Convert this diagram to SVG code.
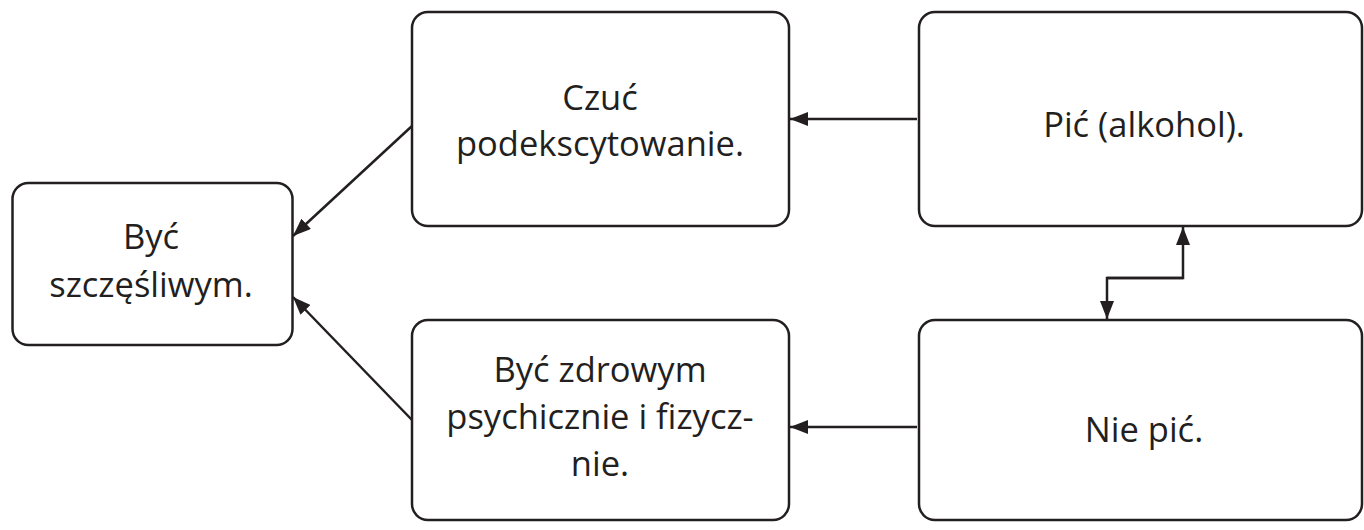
<svg xmlns="http://www.w3.org/2000/svg" width="1364" height="530" viewBox="0 0 1364 530">
  <style>
    .box { fill: #ffffff; stroke: #231f20; stroke-width: 2.5; }
    .lbl { font-family: "Open Sans", "Liberation Sans", sans-serif; font-size: 34.5px; fill: #231f20; text-anchor: middle; }
    .edge { fill: none; stroke: #231f20; stroke-width: 2.5; marker-end: url(#head); }
  </style>
  <defs>
    <marker id="head" markerUnits="userSpaceOnUse" markerWidth="20" markerHeight="14" refX="18" refY="7" orient="auto">
      <path d="M0,0 L18,7 L0,14 z" fill="#231f20"/>
    </marker>
  </defs>

  <rect width="1364" height="530" fill="#ffffff"/>

  <g id="node-szczesliwy">
    <rect class="box" x="12.5" y="183" width="280" height="162" rx="16"/>
    <text class="lbl" x="151" y="249">Być</text>
    <text class="lbl" x="151" y="297">szczęśliwym.</text>
  </g>

  <g id="node-podekscytowanie">
    <rect class="box" x="412" y="12" width="377" height="214" rx="16"/>
    <text class="lbl" x="600" y="110">Czuć</text>
    <text class="lbl" x="600" y="156">podekscytowanie.</text>
  </g>

  <g id="node-zdrowy">
    <rect class="box" x="412" y="320" width="377" height="200" rx="16"/>
    <text class="lbl" x="600" y="382">Być zdrowym</text>
    <text class="lbl" x="600" y="429">psychicznie i fizycz-</text>
    <text class="lbl" x="600" y="476">nie.</text>
  </g>

  <g id="node-pic">
    <rect class="box" x="919" y="12" width="443" height="214" rx="16"/>
    <text class="lbl" x="1144" y="137">Pić (alkohol).</text>
  </g>

  <g id="node-nie-pic">
    <rect class="box" x="919" y="320" width="443" height="200" rx="16"/>
    <text class="lbl" x="1144" y="442">Nie pić.</text>
  </g>

  <g id="connectors">
    <line class="edge" x1="917" y1="119" x2="790" y2="119"/>
    <line class="edge" x1="917" y1="427" x2="790" y2="427"/>
    <line class="edge" x1="412" y1="126" x2="293" y2="236"/>
    <line class="edge" x1="412" y1="420" x2="293" y2="297"/>
    <polyline class="edge" points="1107,278 1183,278 1183,227"/>
    <polyline class="edge" points="1183,278 1107,278 1107,319"/>
  </g>
</svg>
